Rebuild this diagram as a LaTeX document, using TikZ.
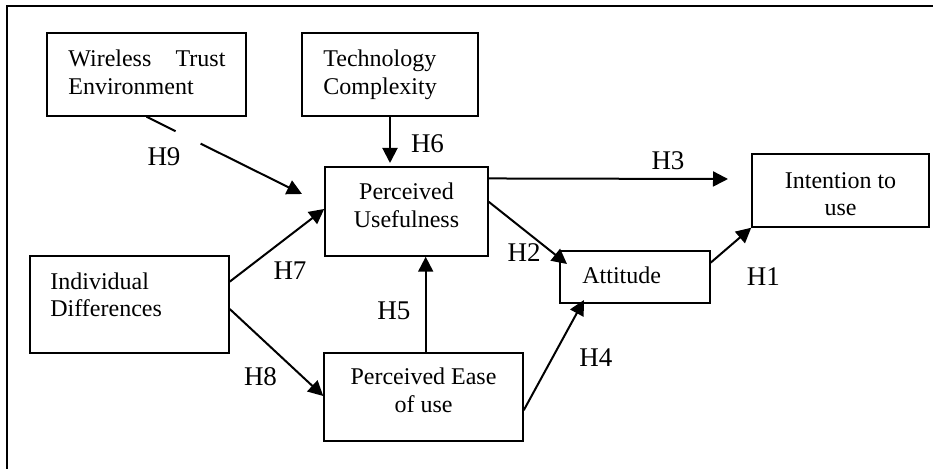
\documentclass[tikz,border=0pt]{standalone}
\usepackage{fontspec}
\setmainfont{Liberation Serif}
\usetikzlibrary{arrows.meta,calc}
\begin{document}
\begin{tikzpicture}[x=0.5pt,y=-0.5pt,
  box/.style={draw, line width=0.75pt, inner sep=0pt},
  txt/.style={inner sep=0pt, font=\fontsize{12}{13.8}\selectfont},
  hyp/.style={inner sep=0pt, font=\fontsize{13.5}{16}\selectfont},
  conn/.style={line width=1pt},
  arr/.style={conn, -{Triangle[length=7.5pt,width=7.5pt]}},
  frame/.style={line width=1pt}]
\useasboundingbox (0,0) rectangle (933,469);
% outer frame (top and left edges)
\coordinate (fa) at (933,6.5);
\coordinate (fb) at (6.5,6.5);
\coordinate (fc) at (6.5,469);
\draw[frame] (fa) -- (fb) -- (fc);
% boxes
\node[box, minimum width=99.5pt, minimum height=41.5pt] (wte) at (146.5,74.5) {};
\node[box, minimum width=88pt, minimum height=41.5pt] (tc) at (390,74.5) {};
\node[box, minimum width=81.5pt, minimum height=44.5pt] (pu) at (406.5,211.5) {};
\node[box, minimum width=88.5pt, minimum height=36.5pt] (itu) at (840.5,190.5) {};
\node[box, minimum width=75pt, minimum height=26pt] (att) at (635,277) {};
\node[box, minimum width=99.5pt, minimum height=48.5pt] (id) at (129.5,304.5) {};
\node[box, minimum width=99.5pt, minimum height=44pt] (peu) at (423.5,397) {};
% box texts (anchor base = baseline of the last line)
\node[txt, anchor=base west, text width=78.5pt, align=left] (wtet) at (68,66.5) {Wireless\hfill Trust\\Environment};
\node[txt, anchor=base west, align=left] (tct) at (323,94.1) {Technology\\Complexity};
\node[txt, anchor=base, align=center] (put) at (406.5,227.6) {Perceived\\Usefulness};
\node[txt, anchor=base, align=center] (itut) at (840.5,215.9) {Intention to\\use};
\node[txt, anchor=base west] (attt) at (582,283.3) {Attitude};
\node[txt, anchor=base west, align=left] (idt) at (50,316.9) {Individual\\Differences};
\node[txt, anchor=base, align=center] (peut) at (423.5,412.6) {Perceived Ease\\of use};
% connectors
\coordinate (h9tip) at (302,194);
\draw[conn] (wte.south) -- ($(wte.south)!0.187!(h9tip)$);
\draw[arr] ($(wte.south)!0.348!(h9tip)$) -- (h9tip);
\coordinate (h6tip) at (390,163);
\draw[arr] (tc.south) -- (h6tip);
\draw[arr] ($(id.north east)!0.268!(id.south east)$) -- ($(pu.north west)!0.472!(pu.south west)$);
\draw[arr] ($(id.north east)!0.546!(id.south east)$) -- ($(peu.north west)!0.489!(peu.south west)$);
\coordinate (h5s) at ($(peu.north)+(2.2,0)$);
\draw[arr] (h5s) -- (h5s |- pu.south);
\coordinate (h3tip) at (728,179);
\draw[arr] ($(pu.north east)!0.135!(pu.south east)$) -- (h3tip);
\coordinate (h2tip) at (567,264);
\draw[arr] ($(pu.north east)!0.393!(pu.south east)$) -- (h2tip);
\coordinate (h4tip) at (584,300);
\draw[arr] ($(peu.north east)!0.648!(peu.south east)$) -- (h4tip);
\draw[arr] ($(att.north east)!0.231!(att.south east)$) -- (itu.south west);
% hypothesis labels
\node[hyp] (l9) at (164,156.5) {H9};
\node[hyp] (l6) at (427.5,143.7) {H6};
\node[hyp] (l7) at (290,270.5) {H7};
\node[hyp] (l8) at (260.5,376.2) {H8};
\node[hyp] (l5) at (393.8,310.8) {H5};
\node[hyp] (l3) at (668,160.5) {H3};
\node[hyp] (l2) at (524.2,252.5) {H2};
\node[hyp] (l4) at (595.8,357.8) {H4};
\node[hyp] (l1) at (763.3,276.2) {H1};
\end{tikzpicture}
\end{document}
